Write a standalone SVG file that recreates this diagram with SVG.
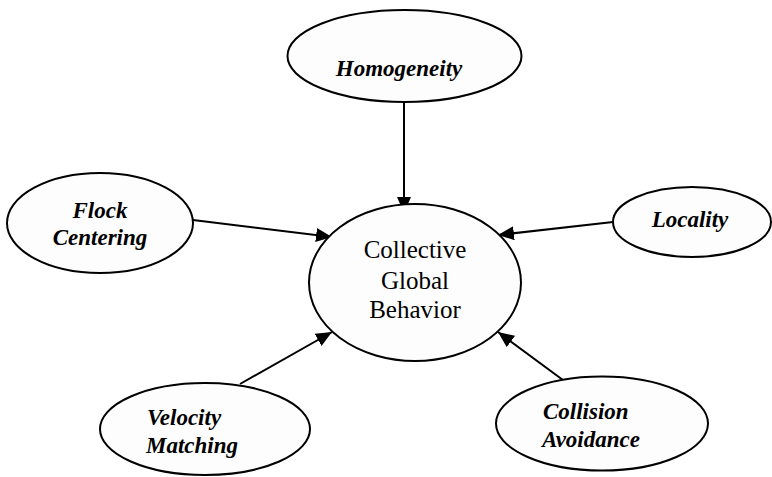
<svg xmlns="http://www.w3.org/2000/svg" width="772" height="477" viewBox="0 0 772 477">
<style>
.node ellipse{fill:#fdfdfd;stroke:#000;stroke-width:2}
.lbl{font-size:23px;font-weight:700;font-style:italic;fill:#000}
.main{font-size:25px;fill:#000;text-anchor:middle}
.edge line{stroke:#000;stroke-width:2;marker-end:url(#arr)}
</style>
<defs>
<marker id="arr" markerUnits="userSpaceOnUse" markerWidth="16" markerHeight="14" refX="16" refY="7" orient="auto">
<path d="M0,0 L16,7 L0,14 z" fill="#000"/>
</marker>
<clipPath id="clipVM"><rect x="0" y="380" width="400" height="82"/></clipPath>
</defs>
<rect width="772" height="477" fill="#fff"/>
<g id="connectors" class="edge">
<line x1="404" y1="102" x2="404" y2="213"/>
<line x1="193" y1="220" x2="332" y2="237"/>
<line x1="613" y1="222" x2="498" y2="235"/>
<line x1="240" y1="384" x2="332" y2="332"/>
<line x1="567" y1="383" x2="498" y2="332"/>
</g>
<g font-family="Liberation Serif, Times New Roman, serif">
<g id="homogeneity" class="node">
<ellipse cx="404.5" cy="56" rx="117" ry="46"/>
<text class="lbl" x="399" y="76" text-anchor="middle">Homogeneity</text>
</g>
<g id="flock-centering" class="node">
<ellipse cx="100" cy="223" rx="93" ry="50"/>
<text class="lbl" x="100" y="218" text-anchor="middle">Flock</text>
<text class="lbl" x="100" y="245" text-anchor="middle">Centering</text>
</g>
<g id="locality" class="node">
<ellipse cx="692" cy="222" rx="79" ry="35"/>
<text class="lbl" x="690" y="227" text-anchor="middle">Locality</text>
</g>
<g id="collective" class="node">
<ellipse cx="415" cy="282.5" rx="106" ry="78.5"/>
<text class="main" x="415" y="258">Collective</text>
<text class="main" x="415" y="289">Global</text>
<text class="main" x="415" y="318">Behavior</text>
</g>
<g id="velocity-matching" class="node">
<ellipse cx="205" cy="429" rx="105" ry="46"/>
<g clip-path="url(#clipVM)">
<text class="lbl" x="147" y="425">Velocity</text>
<text class="lbl" x="146" y="453">Matching</text>
</g>
</g>
<g id="collision-avoidance" class="node">
<ellipse cx="602" cy="423.5" rx="106" ry="47"/>
<text class="lbl" x="543" y="419">Collision</text>
<text class="lbl" x="542" y="447">Avoidance</text>
</g>
</g>
</svg>
